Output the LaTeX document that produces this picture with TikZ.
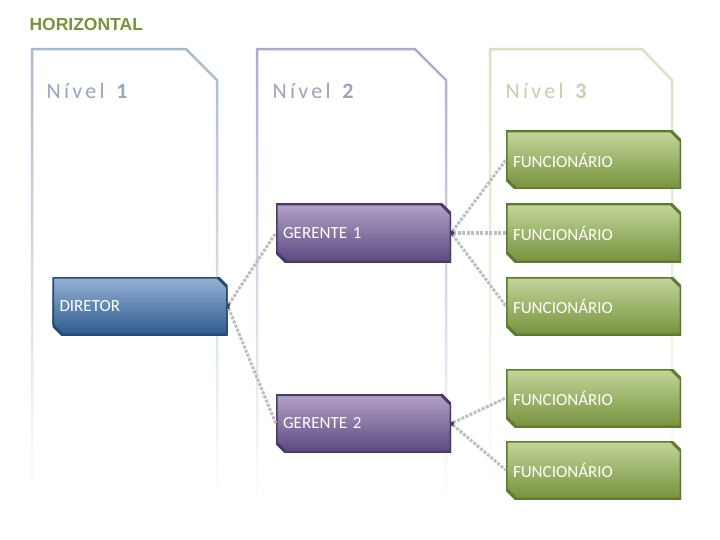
\documentclass[tikz,border=0pt]{standalone}
\usepackage{fontspec}
\setmainfont{Carlito}
\newfontfamily\levelfont[LetterSpace=15]{Carlito}
\newfontfamily\titlefont{Liberation Sans}
\usepackage{tikz}
\usetikzlibrary{positioning,fadings,arrows.meta}

\definecolor{dirtop}{HTML}{95B3D7}
\definecolor{dirbot}{HTML}{2E5A8E}
\definecolor{dirline}{HTML}{2B4A70}
\definecolor{gertop}{HTML}{B3A2C7}
\definecolor{gerbot}{HTML}{5C4880}
\definecolor{gerline}{HTML}{4A3A66}
\definecolor{funtop}{HTML}{C3D69B}
\definecolor{funbot}{HTML}{76923C}
\definecolor{funline}{HTML}{5E7A2E}
\definecolor{panelA}{HTML}{A6B9CF}
\definecolor{panelB}{HTML}{B5A8C7}
\definecolor{panelC}{HTML}{D7E2BE}
\definecolor{levelA}{HTML}{95A8C0}
\definecolor{levelB}{HTML}{A99DB8}
\definecolor{levelC}{HTML}{C5D0AC}
\definecolor{linkgray}{HTML}{BEBEBE}
\definecolor{titlegreen}{HTML}{77933C}

\tikzfading[name=fadedown, top color=transparent!0, middle color=transparent!15, bottom color=transparent!100]

\tikzset{
  panel/.style={draw=#1, line width=2.5pt, path fading=fadedown},
  level/.style={anchor=west, text=#1, font=\levelfont\fontsize{22}{24}\selectfont},
  orgbox/.style n args={3}{minimum height=58pt, inner sep=0pt, inner xsep=7pt,
    text width=161pt, align=left, text=white, font=\fontsize{17}{19}\selectfont,
    path picture={
      \shade[top color=#1, bottom color=#2, draw=#3, line width=3pt]
        (path picture bounding box.north west)
        -- ([xshift=-10pt]path picture bounding box.north east)
        -- ([yshift=-10pt]path picture bounding box.north east)
        -- (path picture bounding box.south east)
        -- ([xshift=10pt]path picture bounding box.south west)
        -- ([yshift=10pt]path picture bounding box.south west) -- cycle;
    }},
  link/.style={draw=linkgray, line width=3pt, dash pattern=on 3pt off 1.5pt,
    {Circle[length=3pt, color=#1]}-}
}

\begin{document}
\begin{tikzpicture}[x=1pt, y=-1pt]
  \useasboundingbox (0,0) rectangle (720,540);

  % Title
  \node[anchor=west, text=titlegreen, font=\titlefont\bfseries\fontsize{17.5}{19}\selectfont] (title) at (26,24) {HORIZONTAL};

  % Level 1 panel
  \draw[panel=panelA] (32,500) -- (32,49) -- (186,49) -- (217,80) -- (217,500);
  \node[level=levelA] (lvl1) at (43,91) {Nível \textbf{1}};

  % Level 2 panel
  \draw[panel=panelB] (257,500) -- (257,49) -- (415,49) -- (446,80) -- (446,500);
  \node[level=levelB] (lvl2) at (269,91) {Nível \textbf{2}};

  % Level 3 panel
  \draw[panel=panelC] (490,500) -- (490,49) -- (642,49) -- (672,80) -- (672,500);
  \node[level=levelC] (lvl3) at (502,91) {Nível \textbf{3}};

  % Director
  \node[orgbox={dirtop}{dirbot}{dirline}] (dir) at (140,306) {DIRETOR};

  % Managers
  \node[orgbox={gertop}{gerbot}{gerline}] (ger1) at (363.5,233) {GERENTE 1};
  \node[orgbox={gertop}{gerbot}{gerline}] (ger2) at (363.5,423.5) {GERENTE 2};

  % Employees
  \node[orgbox={funtop}{funbot}{funline}] (fun1) at (593.5,160) {FUNCIONÁRIO};
  \node[orgbox={funtop}{funbot}{funline}] (fun2) at (593.5,233) {FUNCIONÁRIO};
  \node[orgbox={funtop}{funbot}{funline}] (fun3) at (593.5,306) {FUNCIONÁRIO};
  \node[orgbox={funtop}{funbot}{funline}] (fun4) at (593.5,398) {FUNCIONÁRIO};
  \node[orgbox={funtop}{funbot}{funline}] (fun5) at (593.5,470) {FUNCIONÁRIO};

  % Links
  \draw[link=dirline] (dir.east) -- (ger1.west);
  \draw[link=dirline] (dir.east) -- (ger2.west);
  \draw[link=gerline] (ger1.east) -- (fun1.west);
  \draw[link=gerline] (ger1.east) -- (fun2.west);
  \draw[link=gerline] (ger1.east) -- (fun3.west);
  \draw[link=gerline] (ger2.east) -- (fun4.west);
  \draw[link=gerline] (ger2.east) -- (fun5.west);
\end{tikzpicture}
\end{document}
